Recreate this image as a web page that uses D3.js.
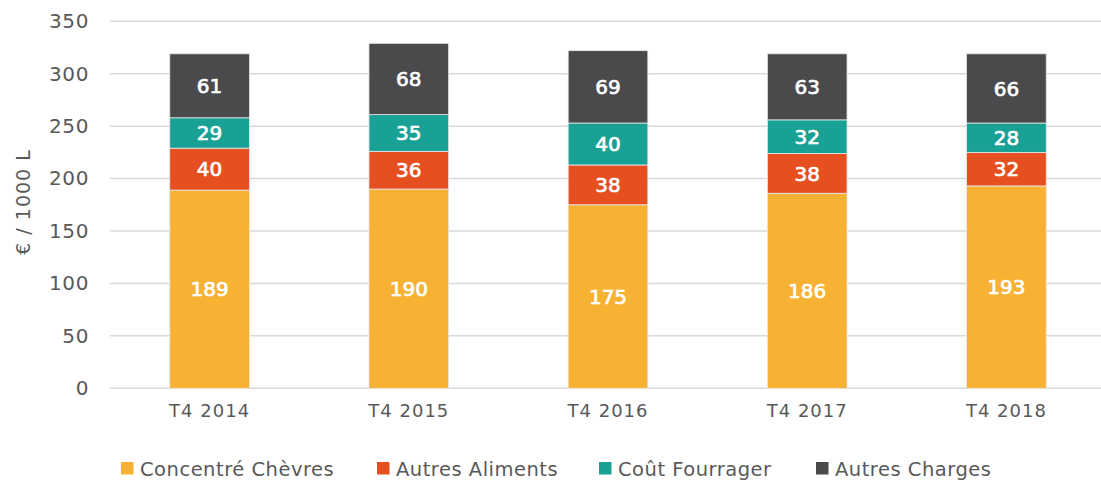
<!DOCTYPE html>
<html lang="fr">
<head>
<meta charset="UTF-8">
<title>Charges</title>
<script src="https://cdn.jsdelivr.net/npm/d3@7"></script>
<style>
  body { margin: 0; background: #fff; }
  svg text { font-family: "DejaVu Sans", sans-serif; }
</style>
</head>
<body>
<svg id="chart" width="1101" height="487"></svg>
<script>
const periods = ['T4 2014', 'T4 2015', 'T4 2016', 'T4 2017', 'T4 2018']
const seriesNames = ['Concentré Chèvres', 'Autres Aliments', 'Coût Fourrager', 'Autres Charges']
const concentre = [189, 190, 175, 186, 193]
const autresAliments = [40, 36, 38, 38, 32]
const coutFourrager = [29, 35, 40, 32, 28]
const autresCharges = [61, 68, 69, 63, 66]
const colours = ['#F7B233', '#E65021', '#1AA195', '#4A4A4C']
const yTicks = [0, 50, 100, 150, 200, 250, 300, 350]

const rows = periods.map((p, i) => ({
    period: p,
    'Concentré Chèvres': concentre[i],
    'Autres Aliments': autresAliments[i],
    'Coût Fourrager': coutFourrager[i],
    'Autres Charges': autresCharges[i]
}))

const svg = d3.select('#chart')

const x = d3.scaleBand()
    .domain(periods)
    .range([110, 1106])
    .paddingInner(0.6)
    .paddingOuter(0.3)

const y = d3.scaleLinear()
    .domain([0, 350])
    .range([388.3, 21.3])

const colour = d3.scaleOrdinal().domain(seriesNames).range(colours)

// gridlines
svg.append('g')
    .selectAll('line')
    .data(yTicks)
    .enter()
    .append('line')
    .attr('x1', 110)
    .attr('x2', 1101)
    .attr('y1', d => y(d))
    .attr('y2', d => y(d))
    .attr('stroke', '#D9D9D9')
    .attr('stroke-width', 1.5)

// y axis labels
const yAxis = d3.axisLeft(y).tickValues(yTicks).tickSize(0).tickPadding(0)
svg.append('g')
    .attr('transform', 'translate(89,0)')
    .call(yAxis)
    .call(g => g.select('.domain').remove())
    .selectAll('text')
    .attr('font-size', 20)
    .attr('letter-spacing', 0.6)
    .attr('fill', '#595959')
    .attr('font-family', '"DejaVu Sans", sans-serif')

svg.append('text')
    .attr('transform', 'translate(23,202) rotate(-90)')
    .attr('text-anchor', 'middle')
    .attr('dy', '0.36em')
    .attr('font-size', 19)
    .attr('letter-spacing', 1)
    .attr('fill', '#595959')
    .text('€ / 1000 L')

// x axis labels
const xAxis = d3.axisBottom(x).tickSize(0).tickPadding(0)
svg.append('g')
    .attr('transform', 'translate(0,404)')
    .call(xAxis)
    .call(g => g.select('.domain').remove())
    .selectAll('text')
    .attr('font-size', 18)
    .attr('letter-spacing', 1)
    .attr('fill', '#595959')
    .attr('font-family', '"DejaVu Sans", sans-serif')

// stacked bars
const stacked = d3.stack().keys(seriesNames)(rows)

const layers = svg.append('g')
    .selectAll('g')
    .data(stacked)
    .enter()
    .append('g')
    .attr('fill', d => colour(d.key))

layers.selectAll('rect')
    .data(d => d)
    .enter()
    .append('rect')
    .attr('x', d => x(d.data.period))
    .attr('y', d => y(d[1]))
    .attr('width', x.bandwidth())
    .attr('height', d => y(d[0]) - y(d[1]))
    .attr('stroke', '#E8E8E8')
    .attr('stroke-width', 0.8)

// value labels, medium weight
layers.selectAll('text')
    .data(d => d.map(v => Object.assign({ key: d.key }, v)))
    .enter()
    .append('text')
    .attr('x', d => x(d.data.period) + x.bandwidth() / 2)
    .attr('y', d => (y(d[0]) + y(d[1])) / 2)
    .attr('dy', '0.36em')
    .attr('text-anchor', 'middle')
    .attr('font-size', 20)
    .attr('fill', '#fff')
    .attr('stroke', '#fff')
    .attr('stroke-width', 0.7)
    .text(d => d[1] - d[0])

// legend
const legendX = [121, 377, 599, 816]
const legend = svg.append('g')
    .selectAll('g')
    .data(seriesNames)
    .enter()
    .append('g')
    .attr('transform', (d, i) => `translate(${legendX[i]},462)`)

legend.append('rect')
    .attr('width', 12.5)
    .attr('height', 12.5)
    .attr('fill', d => colour(d))

legend.append('text')
    .attr('x', 19)
    .attr('y', 6.5)
    .attr('dy', '0.36em')
    .attr('font-size', 19.5)
    .attr('letter-spacing', 0.5)
    .attr('fill', '#595959')
    .text(d => d)
</script>
</body>
</html>
